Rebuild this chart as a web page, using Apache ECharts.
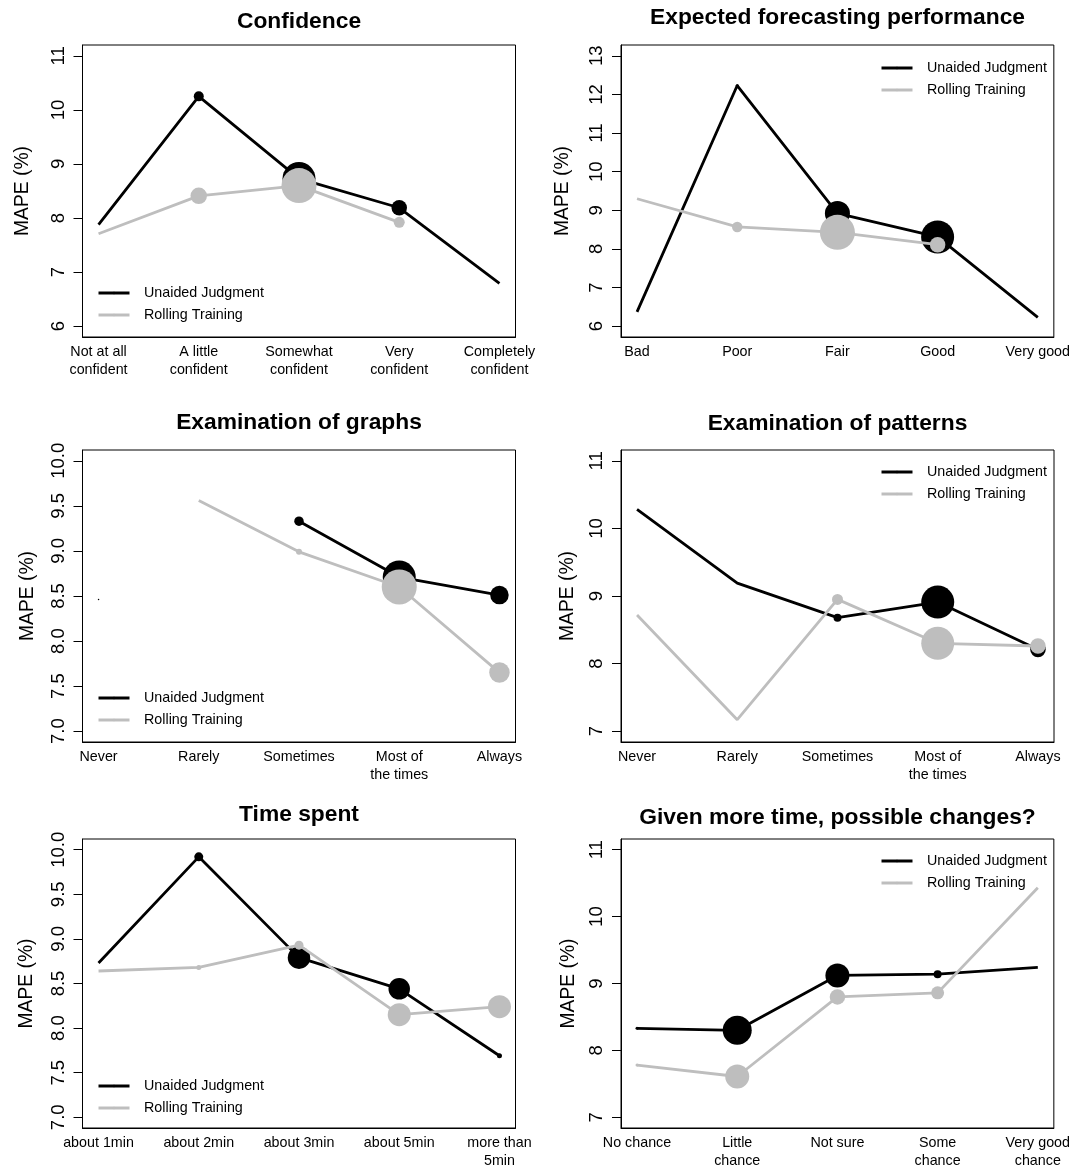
<!DOCTYPE html>
<html><head><meta charset="utf-8">
<script src="https://cdn.jsdelivr.net/npm/echarts@6/dist/echarts.min.js"></script>
<style>html,body{margin:0;padding:0;background:#fff}#c{width:1073px;height:1170px}</style>
</head><body><div id="c"></div>
<script>
const FONT = '"Liberation Sans", Arial, Helvetica, sans-serif';
const SERIES_NAMES = ['Unaided Judgment', 'Rolling Training'];

// ---- Confidence
const confCats = ['Not at all\nconfident', 'A little\nconfident', 'Somewhat\nconfident', 'Very\nconfident', 'Completely\nconfident'];
const confUJ = [7.88, 10.25, 8.73, 8.19, 6.79];
const confRT = [7.71, 8.41, 8.60, 7.92, null];
const confUJn = [0, 10, 33, 15.5, 0];
const confRTn = [0, 16.5, 35, 11, 0];
const confTicks = [6, 7, 8, 9, 10, 11];

// ---- Expected forecasting performance
const perfCats = ['Bad', 'Poor', 'Fair', 'Good', 'Very good'];
const perfUJ = [6.37, 12.23, 8.92, 8.31, 6.23];
const perfRT = [9.30, 8.57, 8.43, 8.11, null];
const perfUJn = [0, 3, 25, 33, 0];
const perfRTn = [0, 10.5, 35, 15.5, 0];
const perfTicks = [6, 7, 8, 9, 10, 11, 12, 13];

// ---- Examination of graphs
const graphCats = ['Never', 'Rarely', 'Sometimes', 'Most of\nthe times', 'Always'];
const graphUJ = [8.46, null, 9.33, 8.71, 8.51];
const graphRT = [null, 9.56, 8.99, 8.60, 7.65];
const graphUJn = [1.5, 0, 9.5, 33, 18.5];
const graphRTn = [0, 0, 6, 35, 20.5];
const graphTicks = [7.0, 7.5, 8.0, 8.5, 9.0, 9.5, 10.0];

// ---- Examination of patterns
const pattCats = ['Never', 'Rarely', 'Sometimes', 'Most of\nthe times', 'Always'];
const pattUJ = [10.28, 9.19, 8.68, 8.91, 8.21];
const pattRT = [8.72, 7.17, 8.95, 8.30, 8.26];
const pattUJn = [0, 0, 8, 33, 15.5];
const pattRTn = [0, 0, 11, 33, 15.5];
const pattTicks = [7, 8, 9, 10, 11];

// ---- Time spent
const timeCats = ['about 1min', 'about 2min', 'about 3min', 'about 5min', 'more than\n5min'];
const timeUJ = [8.73, 9.92, 8.79, 8.44, 7.69];
const timeRT = [8.64, 8.68, 8.93, 8.15, 8.24];
const timeUJn = [0, 9, 22.5, 21.5, 5];
const timeRTn = [0, 5, 9, 23, 23];
const timeTicks = [7.0, 7.5, 8.0, 8.5, 9.0, 9.5, 10.0];

// ---- Given more time, possible changes?
const chgCats = ['No chance', 'Little\nchance', 'Not sure', 'Some\nchance', 'Very good\nchance'];
const chgUJ = [8.33, 8.30, 9.12, 9.14, 9.24];
const chgRT = [7.78, 7.61, 8.80, 8.86, 10.43];
const chgUJn = [3, 29, 24, 8, 0];
const chgRTn = [3, 24, 15.5, 13, 0];
const chgTicks = [7, 8, 9, 10, 11];

const panels = [
  {title: 'Confidence', cats: confCats, uj: confUJ, rt: confRT, ujn: confUJn, rtn: confRTn, ticks: confTicks, dec: 0, yMin: 5.8, yMax: 11.2, col: 0, row: 0, titleTop: 8.7, legendTop: 282, nameGap: 50},
  {title: 'Expected forecasting performance', cats: perfCats, uj: perfUJ, rt: perfRT, ujn: perfUJn, rtn: perfRTn, ticks: perfTicks, dec: 0, yMin: 5.72, yMax: 13.28, col: 1, row: 0, titleTop: 4.5, legendTop: 57, nameGap: 49},
  {title: 'Examination of graphs', cats: graphCats, uj: graphUJ, rt: graphRT, ujn: graphUJn, rtn: graphRTn, ticks: graphTicks, dec: 1, yMin: 6.88, yMax: 10.12, col: 0, row: 1, titleTop: 409.8, legendTop: 687, nameGap: 45},
  {title: 'Examination of patterns', cats: pattCats, uj: pattUJ, rt: pattRT, ujn: pattUJn, rtn: pattRTn, ticks: pattTicks, dec: 0, yMin: 6.84, yMax: 11.16, col: 1, row: 1, titleTop: 410.5, legendTop: 461, nameGap: 44},
  {title: 'Time spent', cats: timeCats, uj: timeUJ, rt: timeRT, ujn: timeUJn, rtn: timeRTn, ticks: timeTicks, dec: 1, yMin: 6.88, yMax: 10.12, col: 0, row: 2, titleTop: 801.5, legendTop: 1075, nameGap: 46},
  {title: 'Given more time, possible changes?', cats: chgCats, uj: chgUJ, rt: chgRT, ujn: chgUJn, rtn: chgRTn, ticks: chgTicks, dec: 0, yMin: 6.84, yMax: 11.16, col: 1, row: 2, titleTop: 804.5, legendTop: 850, nameGap: 43}
];

const gridLeft = [82.5, 621];
const gridWidth = 433;
const gridTop = [45, 450, 839];
const gridHeight = 292;
const legendLeft = [97, 880];

const option = {
  animation: false,
  backgroundColor: '#fff',
  textStyle: {fontFamily: FONT},
  title: [], grid: [], xAxis: [], yAxis: [], series: [], legend: []
};

panels.forEach((p, i) => {
  const gl = gridLeft[p.col], gt = gridTop[p.row];
  option.title.push({
    text: p.title, left: gl + gridWidth / 2, top: p.titleTop, textAlign: 'center', padding: 0,
    textStyle: {fontSize: 22.8, fontWeight: 'bold', color: '#000', fontFamily: FONT, lineHeight: 26}
  });
  option.grid.push({
    left: gl, top: gt, width: gridWidth, height: gridHeight,
    show: true, borderColor: '#000', borderWidth: 1, backgroundColor: 'transparent', containLabel: false
  });
  option.xAxis.push({
    gridIndex: i, type: 'value', min: 0.84, max: 5.16,
    axisLine: {show: true, lineStyle: {color: '#000', width: 1}},
    axisTick: {show: false}, splitLine: {show: false},
    axisLabel: {
      customValues: [1, 2, 3, 4, 5], margin: 6,
      formatter: v => p.cats[Math.round(v) - 1],
      fontSize: 14.3, lineHeight: 18, color: '#000', fontFamily: FONT
    }
  });
  option.yAxis.push({
    gridIndex: i, type: 'value', min: p.yMin, max: p.yMax,
    axisLine: {show: true, lineStyle: {color: '#000', width: 1}},
    splitLine: {show: false},
    axisTick: {show: true, length: 9, lineStyle: {color: '#000', width: 1}, customValues: p.ticks},
    axisLabel: {
      customValues: p.ticks, rotate: 90, margin: 14.5,
      formatter: v => p.dec ? Number(v).toFixed(1) : String(Math.round(v)),
      fontSize: 18.5, color: '#000', fontFamily: FONT
    },
    name: 'MAPE (%)', nameLocation: 'middle', nameGap: p.nameGap, nameRotate: 90,
    nameTextStyle: {fontSize: 19.3, color: '#000', fontFamily: FONT}
  });
  const mk = vals => p.cats.map((c, k) => [k + 1, vals[k] == null ? '-' : vals[k]]);
  option.series.push({
    name: SERIES_NAMES[0], type: 'line', xAxisIndex: i, yAxisIndex: i, z: 2,
    data: mk(p.uj), symbol: 'circle', showSymbol: true, showAllSymbol: true,
    symbolSize: (v, prm) => p.ujn[prm.dataIndex],
    itemStyle: {color: '#000'}, lineStyle: {color: '#000', width: 2.8},
    connectNulls: false, silent: true, emphasis: {disabled: true}
  });
  option.series.push({
    name: SERIES_NAMES[1], type: 'line', xAxisIndex: i, yAxisIndex: i, z: 3,
    data: mk(p.rt), symbol: 'circle', showSymbol: true, showAllSymbol: true,
    symbolSize: (v, prm) => p.rtn[prm.dataIndex],
    itemStyle: {color: '#bebebe'}, lineStyle: {color: '#bebebe', width: 2.8},
    connectNulls: false, silent: true, emphasis: {disabled: true}
  });
  option.legend.push({
    data: SERIES_NAMES, orient: 'vertical', left: legendLeft[p.col], top: p.legendTop,
    padding: 0, itemGap: 0, itemWidth: 31, itemHeight: 3, selectedMode: false,
    lineStyle: {width: 3},
    textStyle: {fontSize: 14.3, color: '#000', fontFamily: FONT, lineHeight: 22, padding: [0, 0, 0, 9.5]}
  });
});

const chart = echarts.init(document.getElementById('c'), null, {renderer: 'canvas'});
chart.setOption(option);
</script>
</body></html>
